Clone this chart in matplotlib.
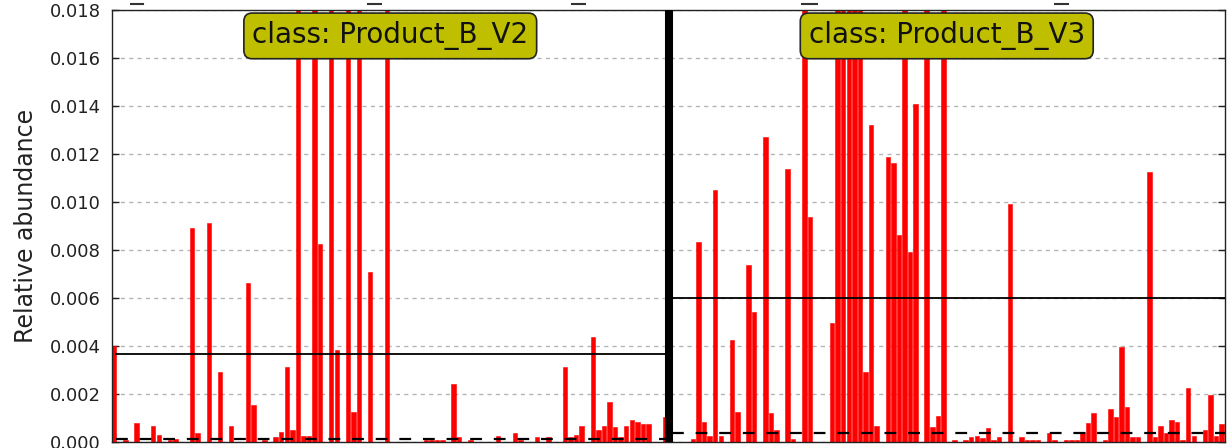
import numpy as np
import matplotlib
matplotlib.use('Agg')
import matplotlib.pyplot as plt
from matplotlib.lines import Line2D
from matplotlib.transforms import blended_transform_factory

plt.rcParams['font.family'] = ['DejaVu Sans']
plt.rcParams['lines.scale_dashes'] = False

# classes, in plotting order
classes = ['Product_B_V2', 'Product_B_V3']

# relative abundance per sample (bars above 0.018 run off the top of the axis)
v2_vals = [
    0.0040, 0, 0.00007, 0, 0.00076, 0, 0, 0.00067, 0.00028, 0,
    0.00007, 0.00012, 0, 0, 0.00893, 0.00035, 0, 0.0091, 0, 0.00292,
    0, 0.00067, 0, 0, 0.0066, 0.00151, 0, 0.00007, 0, 0.00018,
    0.00042, 0.0031, 0.00049, 0.024, 0.00025, 0.00025, 0.071, 0.00826, 0, 0.036,
    0.00382, 0, 0.058, 0.00125, 0.043, 0, 0.00708, 0, 0, 0.0497,
    0, 0, 0, 0, 0, 0, 0.00007, 0.00007, 0.00007, 0.00007,
    0, 0.0024, 0.00018, 0, 0.00007, 0, 0, 0, 0, 0.00025,
    0, 0, 0.00035, 0.00007, 0, 0, 0.00018, 0, 0.00018, 0,
    0, 0.0031, 0.00018, 0.00028, 0.00067, 0, 0.00435, 0.00049, 0.00067, 0.00167,
    0.0006, 0.00018, 0.00067, 0.0009, 0.00083, 0.00074, 0.00074, 0, 0, 0.00101,
]

v3_vals = [
    0, 0, 0, 0, 0.0001, 0.00833, 0.00083, 0.00025, 0.0105, 0.00025,
    0, 0.00426, 0.00125, 0, 0.00735, 0.00542, 0, 0.0127, 0.00118, 0.00049,
    0, 0.01135, 0.0001, 0, 0.032, 0.00935, 0, 0, 0, 0.00493,
    0.058, 0.041, 0.066, 0.047, 0.039, 0.00292, 0.0132, 0.00067, 0, 0.01185,
    0.0116, 0.0086, 0.028, 0.0079, 0.0141, 0, 0.052, 0.0006, 0.00108, 0.0426,
    0, 0.00007, 0, 0.00007, 0.0002, 0.00025, 0.00014, 0.00058, 0.00007, 0.00018,
    0, 0.00993, 0, 0.00018, 0.00007, 0.00007, 0.00007, 0, 0.00038, 0.00007,
    0, 0.00007, 0.00007, 0.00007, 0.0004, 0.00076, 0.00118, 0, 0.00007, 0.00135,
    0.00101, 0.00393, 0.00143, 0.00018, 0.00018, 0, 0.01125, 0.00018, 0.00065, 0.00038,
    0.0009, 0.00083, 0.00007, 0.00225, 0.00025, 0, 0.00049, 0.00194, 0.00025, 0.00074,
]

groups = [v2_vals, v3_vals]
yticks = np.arange(0, 0.0181, 0.002)

W, H = 1227, 448
fig = plt.figure(figsize=(W / 100., H / 100.), dpi=100)
ax = fig.add_axes([112. / W, 6.3 / H, 1113. / W, 431.7 / H])
trans = blended_transform_factory(ax.transData, ax.transAxes)

cur = 0
for cl, vals in zip(classes, groups):
    vals = np.array(vals)
    n = len(vals)
    ax.bar(np.arange(cur, cur + n), vals, width=0.8, align='edge',
           color='r', edgecolor='r', lw=0.4, zorder=2)
    # mean (solid) and median (dashed)
    ax.plot([cur + 0.7, cur + n], [vals.mean()] * 2, '-', color='k', lw=1.3, zorder=3)
    ax.plot([cur + 0.7, cur + n], [np.median(vals)] * 2, color='k', lw=1.6,
            dashes=(8.5, 8.5), zorder=3)
    ax.text(cur + n / 2., 0.94, 'class: ' + cl, transform=trans,
            ha='center', va='center', fontsize=20, color='#111111', zorder=6,
            bbox=dict(boxstyle='round,pad=0.3', fc=(0.75, 0.75, 0), ec='#222222', lw=1.2))
    cur += n

# thick separator between classes
ax.axvline(len(v2_vals), color='k', lw=5.8, zorder=5)

ax.set_xlim(0, cur)
ax.set_ylim(0, 0.018)
ax.set_xticks([])
ax.set_yticks(yticks)
ax.set_yticklabels(['%.3f' % t for t in yticks])
ax.tick_params(axis='y', direction='in', length=5, width=1, right=True,
               labelsize=13, pad=8, colors='#222222')
ax.set_axisbelow(True)
ax.yaxis.grid(True, color='#b5b5b5', lw=1, linestyle=(0, (3, 3)))
for s in ax.spines.values():
    s.set_color('#222222')
    s.set_linewidth(1.0)

ax.set_ylabel('Relative abundance', fontsize=17, color='#222222')
ax.yaxis.set_label_coords(-0.0665, 0.5)

# bits of the panel above that show at the top edge
for x0, x1 in [(131, 143), (368, 381), (572, 585), (802, 817), (1055, 1068)]:
    fig.add_artist(Line2D([x0 / float(W), x1 / float(W)], [1 - 4.5 / H] * 2,
                          color='#333333', lw=1.5))

fig.savefig('out.png', dpi=100)
